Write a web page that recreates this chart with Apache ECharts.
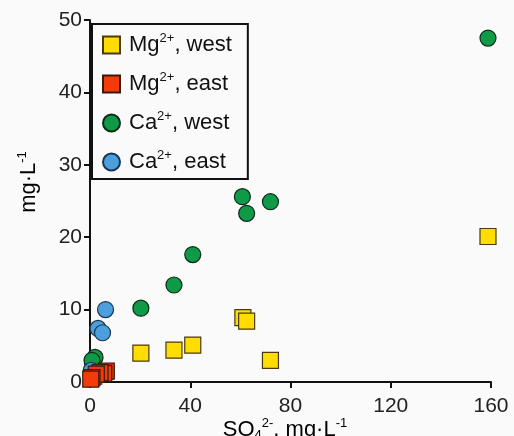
<!DOCTYPE html>
<html>
<head>
<meta charset="utf-8">
<script src="https://cdn.jsdelivr.net/npm/echarts@6/dist/echarts.min.js"></script>
<style>
  html, body { margin: 0; padding: 0; background: #fafafa; }
  #chart { width: 514px; height: 436px; }
</style>
</head>
<body>
<div id="chart"></div>
<script>
// data: [SO4, concentration]
const mgWest = [[20.3, 4.0], [33.5, 4.4], [41, 5.1], [61, 8.9], [62.5, 8.4], [72, 3.0], [158.8, 20.1], [1.5, 0.8]];
const mgEast = [[6.5, 1.5], [5.5, 1.2], [4, 1.3], [2.5, 1.1], [0.8, 0.6], [0.3, 0.4]];
const caWest = [[20.3, 10.2], [33.5, 13.4], [41, 17.6], [60.8, 25.6], [62.5, 23.3], [72, 24.9], [158.8, 47.5], [1, 2.6], [2, 3.4], [0.8, 3.0]];
const caEast = [[6.2, 10.0], [3.2, 7.4], [5, 6.8], [0.5, 1.6]];

const names = ["Mg, west", "Mg, east", "Ca, west", "Ca, east"];

const chart = echarts.init(document.getElementById("chart"));

const font = "Liberation Sans, Arial, sans-serif";
const rich = {
  a: { fontSize: 22, fontFamily: font, color: "#111" },
  sup: { fontSize: 13, fontFamily: font, color: "#111", verticalAlign: "top", padding: [0, 0, 13, 0] },
  sub: { fontSize: 13, fontFamily: font, color: "#111", padding: [11, 0, 0, 0] },
};

const legendLabels = {
  "Mg, west": "{a|Mg}{sup|2+}{a|, west}",
  "Mg, east": "{a|Mg}{sup|2+}{a|, east}",
  "Ca, west": "{a|Ca}{sup|2+}{a|, west}",
  "Ca, east": "{a|Ca}{sup|2+}{a|, east}",
};

const option = {
  backgroundColor: "#fafafa",
  animation: false,
  grid: { left: 90, right: 23, top: 20, bottom: 54, outerBoundsMode: "none" },
  legend: {
    orient: "vertical",
    left: 92,
    top: 24,
    padding: [8, 16, 6, 10],
    itemGap: 15,
    itemWidth: 17,
    itemHeight: 17,
    borderColor: "#111",
    borderWidth: 2,
    backgroundColor: "#fafafa",
    data: names,
    formatter: (n) => legendLabels[n],
    textStyle: { rich: rich, padding: [0, 0, 0, 4] },
  },
  xAxis: {
    type: "value",
    min: 0,
    max: 160,
    interval: 40,
    splitLine: { show: false },
    axisLine: { lineStyle: { color: "#111", width: 2 } },
    axisTick: { length: 6, lineStyle: { color: "#111", width: 2 } },
    axisLabel: { fontSize: 21, fontFamily: font, color: "#222", margin: 14 },
  },
  yAxis: {
    type: "value",
    min: 0,
    max: 50,
    interval: 10,
    splitLine: { show: false },
    axisLine: { lineStyle: { color: "#111", width: 2 } },
    axisTick: { length: 6, lineStyle: { color: "#111", width: 2 } },
    axisLabel: { fontSize: 21, fontFamily: font, color: "#222", margin: 8 },
  },
  // axis titles (the x one sits partly below the canvas edge, like the original)
  graphic: [
    {
      type: "text",
      x: 16,
      y: 182,
      rotation: Math.PI / 2,
      style: {
        text: "{a|mg·L}{sup|-1}",
        rich: rich,
        align: "center",
        verticalAlign: "top",
      },
    },
    {
      type: "text",
      x: 285,
      y: 417,
      style: {
        text: "{a|SO}{sub|4}{sup|2-}{a|, mg·L}{sup|-1}",
        rich: rich,
        align: "center",
        verticalAlign: "top",
      },
    },
  ],
  series: [
    {
      name: names[0], type: "scatter", symbol: "rect", symbolSize: 16, data: mgWest, z: 2,
      itemStyle: { color: "#ffdd00", borderColor: "#4a3a10", borderWidth: 1.2, opacity: 1 },
    },
    {
      name: names[1], type: "scatter", symbol: "rect", symbolSize: 16, data: mgEast, z: 3,
      itemStyle: { color: "#f23a0a", borderColor: "#3a1a10", borderWidth: 1.2, opacity: 1 },
    },
    {
      name: names[2], type: "scatter", symbol: "circle", symbolSize: 16, data: caWest, z: 2,
      itemStyle: { color: "#0f9a47", borderColor: "#0c2a18", borderWidth: 1.2, opacity: 1 },
    },
    {
      name: names[3], type: "scatter", symbol: "circle", symbolSize: 16, data: caEast, z: 2,
      itemStyle: { color: "#4a9fdc", borderColor: "#1a3550", borderWidth: 1.2, opacity: 1 },
    },
  ],
};

chart.setOption(option);
</script>
</body>
</html>
